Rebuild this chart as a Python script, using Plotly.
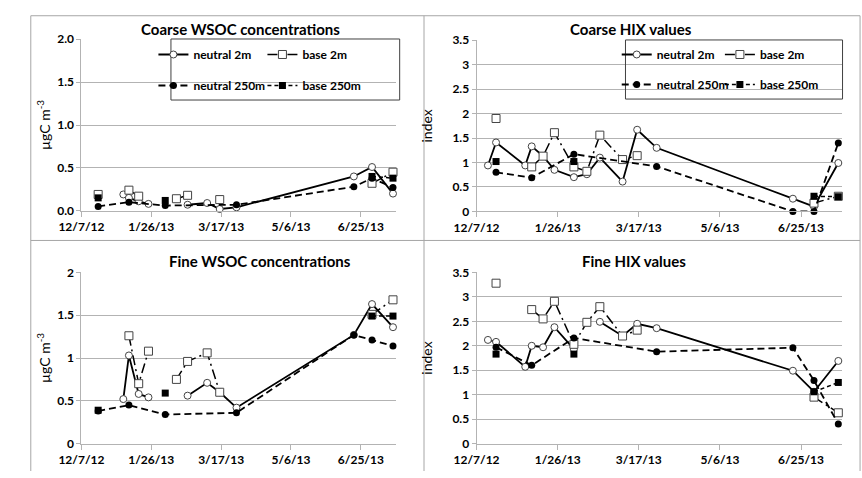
import plotly.graph_objects as go

# ---------------- data ----------------
dates = ["2012-12-14", "2012-12-19", "2013-01-06", "2013-01-10", "2013-01-17",
         "2013-01-24", "2013-02-05", "2013-02-13", "2013-02-21", "2013-03-07",
         "2013-03-16", "2013-03-28", "2013-06-20", "2013-07-03", "2013-07-18"]
series_names = ["neutral 2m", "base 2m", "neutral 250m", "base 250m"]
tick_dates = ["2012-12-07", "2013-01-26", "2013-03-17", "2013-05-06", "2013-06-25"]
tick_labels = ["12/7/12", "1/26/13", "3/17/13", "5/6/13", "6/25/13"]
panel_titles = ["Coarse WSOC concentrations", "Coarse HIX values",
                "Fine WSOC concentrations", "Fine HIX values"]

coarse_wsoc_neutral_2m = [None, None, 0.19, 0.15, 0.11, 0.08, None, None, 0.07, 0.09, 0.02, 0.04, 0.40, 0.51, 0.20]
coarse_wsoc_base_2m = [None, 0.19, None, 0.24, 0.17, None, None, 0.14, 0.18, None, 0.13, None, None, 0.32, 0.45]
coarse_wsoc_neutral_250m = [None, 0.05, None, 0.10, None, None, 0.06, None, None, None, None, 0.07, 0.28, 0.38, 0.27]
coarse_wsoc_base_250m = [None, 0.15, None, None, None, None, 0.12, None, None, None, None, None, None, 0.40, 0.38]

coarse_hix_neutral_2m = [0.94, 1.41, 0.94, 1.33, 1.13, 0.85, 0.70, 0.76, 1.10, 0.61, 1.67, 1.30, 0.26, 0.10, 0.99]
coarse_hix_base_2m = [None, 1.90, None, 0.91, 1.13, 1.61, 0.91, 0.82, 1.56, 1.06, 1.14, None, None, 0.17, 0.31]
coarse_hix_neutral_250m = [None, 0.80, None, 0.69, None, None, 1.17, None, None, None, None, 0.92, 0.0, 0.0, 1.40]
coarse_hix_base_250m = [None, 1.02, None, None, None, None, 1.02, None, None, None, None, None, None, 0.31, 0.30]

fine_wsoc_neutral_2m = [None, None, 0.52, 1.03, 0.58, 0.54, None, None, 0.56, 0.71, 0.60, 0.42, 1.27, 1.63, 1.36]
fine_wsoc_base_2m = [None, None, None, 1.26, 0.70, 1.08, None, 0.75, 0.96, 1.06, 0.60, None, None, 1.51, 1.68]
fine_wsoc_neutral_250m = [None, 0.38, None, 0.45, None, None, 0.34, None, None, None, None, 0.36, 1.27, 1.21, 1.14]
fine_wsoc_base_250m = [None, 0.39, None, None, None, None, 0.59, None, None, None, None, None, None, 1.49, 1.49]

fine_hix_neutral_2m = [2.12, 2.08, 1.57, 2.00, 1.97, 2.38, 1.93, None, 2.49, 2.20, 2.45, 2.36, 1.49, 1.06, 1.69]
fine_hix_base_2m = [None, 3.28, None, 2.74, 2.55, 2.91, 2.03, 2.48, 2.80, 2.20, 2.32, None, None, 0.95, 0.63]
fine_hix_neutral_250m = [None, 1.97, None, 1.60, None, None, 2.16, None, None, None, None, 1.88, 1.96, 1.29, 0.40]
fine_hix_base_250m = [None, 1.83, None, None, None, None, 1.83, None, None, None, None, None, None, 1.06, 1.25]

# ---------------- styling ----------------
W, H = 862, 478
FONT = "Lato"
GRID = "#b3b3b3"
FRAME = "#a6a6a6"


def px(x):
    return x / W


def py(y):
    return 1 - y / H


styles = [
    dict(line=dict(color="black", width=1.8, dash="solid"),
         marker=dict(symbol="circle", size=7, color="white", line=dict(color="#444", width=1)),
         connectgaps=False),
    dict(line=dict(color="black", width=1.5, dash="10px,4px,2px,4px"),
         marker=dict(symbol="square", size=8, color="white", line=dict(color="#444", width=1)),
         connectgaps=False),
    dict(line=dict(color="black", width=1.8, dash="7px,4px"),
         marker=dict(symbol="circle", size=7, color="black", line=dict(color="black", width=0)),
         connectgaps=True),
    dict(line=dict(color="black", width=1.5, dash="4px,3px"),
         marker=dict(symbol="square", size=7, color="black", line=dict(color="black", width=0)),
         connectgaps=False),
]

panels = [
    dict(x="x", y="y", data=[coarse_wsoc_neutral_2m, coarse_wsoc_base_2m, coarse_wsoc_neutral_250m, coarse_wsoc_base_250m],
         xdom=[px(60), px(383)], ydom=[py(209.3), py(32.3)], yr=[0, 2.0], dtick=0.5, fmt=".1f",
         ytitle="µgC m<sup>-3</sup>", standoff=3, legends=["legend", "legend2", "legend3", "legend4"],
         title=panel_titles[0], tpos=(223.5, 21.7)),
    dict(x="x2", y="y2", data=[coarse_hix_neutral_2m, coarse_hix_base_2m, coarse_hix_neutral_250m, coarse_hix_base_250m],
         xdom=[px(466), px(841)], ydom=[py(210), py(33.3)], yr=[0, 3.5], dtick=0.5, fmt="",
         ytitle="index", standoff=16, legends=["legend5", "legend6", "legend7", "legend8"],
         title=panel_titles[1], tpos=(625, 21.7)),
    dict(x="x3", y="y3", data=[fine_wsoc_neutral_2m, fine_wsoc_base_2m, fine_wsoc_neutral_250m, fine_wsoc_base_250m],
         xdom=[px(60), px(383)], ydom=[py(449.7), py(273)], yr=[0, 2.0], dtick=0.5, fmt="",
         ytitle="µgC m<sup>-3</sup>", standoff=3, legends=None,
         title=panel_titles[2], tpos=(243.5, 260.7)),
    dict(x="x4", y="y4", data=[fine_hix_neutral_2m, fine_hix_base_2m, fine_hix_neutral_250m, fine_hix_base_250m],
         xdom=[px(466), px(841)], ydom=[py(449.7), py(273)], yr=[0, 3.5], dtick=0.5, fmt="",
         ytitle="index", standoff=16, legends=None,
         title=panel_titles[3], tpos=(628, 260.7)),
]

# legend item positions (text start x, row centre y) in pixels
legend_pos = {
    "legend": (180, 48), "legend2": (292, 48), "legend3": (180, 80), "legend4": (292, 80),
    "legend5": (656, 48), "legend6": (762, 48), "legend7": (656, 79), "legend8": (762, 79),
}

fig = go.Figure()
layout = dict(width=W, height=H, margin=dict(l=0, r=0, t=0, b=0),
              paper_bgcolor="white", plot_bgcolor="white",
              font=dict(family=FONT, size=12, color="black"))

tickfont = dict(family=FONT, size=12, color="black", weight="bold")
annotations = []
for i, p in enumerate(panels):
    for k in range(4):
        st = styles[k]
        show = p["legends"] is not None
        tr = dict(x=dates, y=p["data"][k], mode="lines+markers", name=series_names[k],
                  xaxis=p["x"], yaxis=p["y"], line=st["line"], marker=st["marker"],
                  connectgaps=st["connectgaps"], cliponaxis=False, showlegend=show)
        if show:
            tr["legend"] = p["legends"][k]
        fig.add_trace(go.Scatter(**tr))
    xk = "xaxis" if p["x"] == "x" else "xaxis" + p["x"][1:]
    yk = "yaxis" if p["y"] == "y" else "yaxis" + p["y"][1:]
    layout[xk] = dict(domain=p["xdom"], anchor=p["y"], type="date",
                      range=["2012-12-07", "2013-07-20"],
                      tickmode="array", tickvals=tick_dates, ticktext=tick_labels,
                      showgrid=False, showline=True, linecolor=GRID, linewidth=1,
                      ticks="outside", ticklen=5, tickcolor=GRID, tickfont=tickfont,
                      zeroline=False, fixedrange=True)
    layout[yk] = dict(domain=p["ydom"], anchor=p["x"], range=p["yr"], dtick=p["dtick"],
                      tick0=0, tickformat=p["fmt"],
                      showgrid=True, gridcolor=GRID, gridwidth=1,
                      showline=True, linecolor=GRID, linewidth=1,
                      ticks="outside", ticklen=4, tickcolor=GRID, tickfont=tickfont,
                      zeroline=False, fixedrange=True,
                      title=dict(text=p["ytitle"], font=dict(family=FONT, size=14, color="black"),
                                 standoff=p["standoff"]))
    annotations.append(dict(text=p["title"], x=px(p["tpos"][0]), y=py(p["tpos"][1]),
                            xref="paper", yref="paper", showarrow=False,
                            xanchor="center", yanchor="middle",
                            font=dict(family=FONT, size=15, color="black", weight="bold")))

legfont = dict(family=FONT, size=12, color="black", weight="bold")
TEXT_OFFSET = 46
for name, (tx, ty) in legend_pos.items():
    layout[name] = dict(orientation="h", x=px(tx - TEXT_OFFSET), y=py(ty),
                        xanchor="left", yanchor="middle",
                        bgcolor="rgba(0,0,0,0)", borderwidth=0, font=legfont,
                        itemclick=False, itemdoubleclick=False)

shapes = []
# legend boxes
for (x0, y0, x1, y1) in [(152, 32, 387, 95), (619, 33, 842, 94)]:
    shapes.append(dict(type="rect", xref="paper", yref="paper",
                       x0=px(x0), x1=px(x1), y0=py(y1), y1=py(y0),
                       line=dict(color="#404040", width=1), fillcolor="rgba(0,0,0,0)"))
# frame lines
for (x0, y0, x1, y1) in [(8, 8, 860, 8), (8, 8, 8, 478), (412, 8, 412, 478),
                         (8, 240, 860, 240), (860, 8, 860, 478)]:
    shapes.append(dict(type="line", xref="paper", yref="paper",
                       x0=px(x0), x1=px(x1), y0=py(y0), y1=py(y1),
                       line=dict(color=FRAME, width=1)))

layout["shapes"] = shapes
layout["annotations"] = annotations
fig.update_layout(**layout)
fig.write_html("out.html")
